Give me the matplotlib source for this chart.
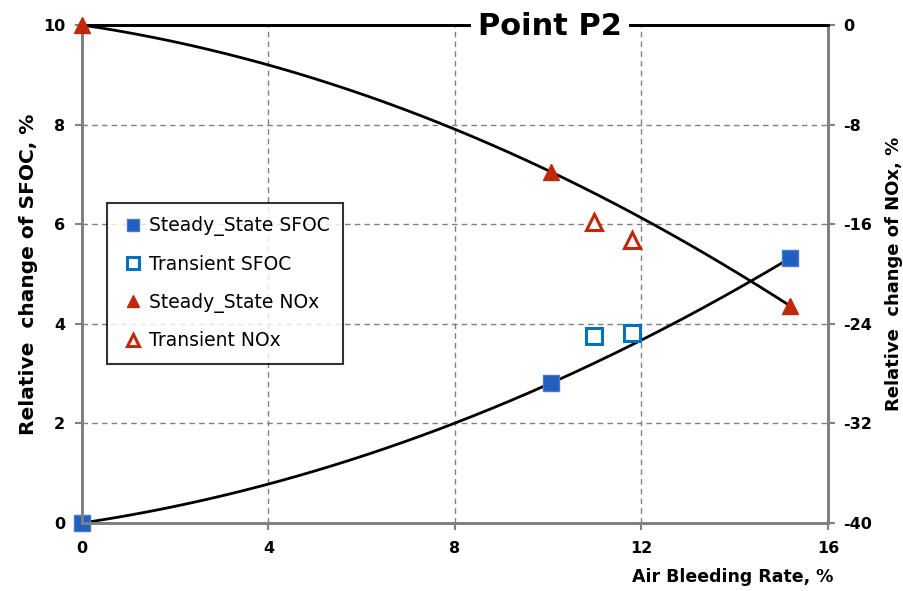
import numpy as np
import matplotlib.pyplot as plt

# data
steady_x = [0, 10.06, 15.19]
steady_sfoc = [0, 2.81, 5.32]
trans_x = [10.99, 11.8]
trans_sfoc = [3.76, 3.82]
steady_nox = [0, -11.8, -22.57]
trans_nox = [-15.83, -17.27]

x_ticks = [0, 4, 8, 12, 16]
sfoc_ticks = [0, 2, 4, 6, 8, 10]
nox_ticks = [-40, -32, -24, -16, -8, 0]

blue = '#1F5FBF'
blue_edge = '#4A78C8'
trans_blue = '#0070C0'
red = '#C0280C'
grey = '#808080'

plt.rcParams['font.family'] = ['DejaVu Sans']
plt.rcParams['axes.unicode_minus'] = False

fig = plt.figure(figsize=(9.04, 5.91), dpi=100)
ax = fig.add_axes([82/904, 68/591, 746/904, 498/591])
ax2 = ax.twinx()

# trend lines (2nd order fit through steady points)
xs = np.linspace(0, max(steady_x), 200)
p_sfoc = np.polyfit(steady_x, steady_sfoc, 2)
p_nox = np.polyfit(steady_x, steady_nox, 2)
ax.plot(xs, np.polyval(p_sfoc, xs), color='black', lw=2, zorder=3)
ax2.plot(xs, np.polyval(p_nox, xs), color='black', lw=2, zorder=3)

l1, = ax.plot(steady_x, steady_sfoc, 's', color=blue, mec=blue_edge, ms=11,
              ls='none', label='Steady_State SFOC', zorder=4, clip_on=False)
l2, = ax.plot(trans_x, trans_sfoc, 's', mfc='white', mec=trans_blue, mew=2.2,
              ms=11, ls='none', label='Transient SFOC', zorder=4)
l3, = ax2.plot(steady_x, steady_nox, '^', color=red, ms=11, ls='none',
               label='Steady_State NOx', zorder=4, clip_on=False)
l4, = ax2.plot(trans_x, trans_nox, '^', mfc='white', mec=red, mew=2.2, ms=11,
               ls='none', label='Transient NOx', zorder=4)

ax.set_xlim(0, 16)
ax.set_ylim(0, 10)
ax2.set_ylim(-40, 0)
ax.set_xticks(x_ticks)
ax.set_yticks(sfoc_ticks)
ax2.set_yticks(nox_ticks)

ax.grid(True, ls=(0, (4, 3)), color=grey, lw=1)
ax.set_axisbelow(True)

for a in (ax, ax2):
    for s in ('left', 'right', 'bottom'):
        a.spines[s].set_color(grey)
        a.spines[s].set_linewidth(2)
    a.spines['top'].set_color('black')
    a.spines['top'].set_linewidth(2)
    a.tick_params(direction='out', length=5, width=1.5, color=grey,
                  labelsize=11.5)
    for lab in a.get_xticklabels() + a.get_yticklabels():
        lab.set_fontweight('bold')
ax.tick_params(axis='y', pad=7)
ax.tick_params(axis='x', pad=8)
ax2.tick_params(axis='y', pad=6)

ax.set_xlabel('Air Bleeding Rate, %', fontsize=12.5, fontweight='bold',
              loc='right')
ax.xaxis.set_label_coords(1.007, -0.09)
ax.set_ylabel('Relative  change of SFOC, %', fontsize=14.5, fontweight='bold')
ax.yaxis.set_label_coords(-0.059, 0.5)
ax2.set_ylabel('Relative  change of NOx, %', fontsize=13, fontweight='bold')
ax2.yaxis.set_label_coords(1.077, 0.5)

fig.text(550/904, 1 - 35/591, 'Point P2', fontsize=22, fontweight='bold',
         ha='center', va='baseline',
         bbox=dict(facecolor='white', edgecolor='none', pad=5))

leg = ax2.legend(handles=[l1, l2, l3, l4], loc='upper left',
                 bbox_to_anchor=((107-82)/746, (523-203)/498),
                 borderaxespad=0, fontsize=13.5,
                 frameon=True, fancybox=False, edgecolor='black',
                 handlelength=1.4, handletextpad=0.15, labelspacing=1.0,
                 borderpad=0.7, markerscale=0.8)
leg.get_frame().set_linewidth(1.5)
leg.set_zorder(10)

fig.savefig('out.png', dpi=100)
